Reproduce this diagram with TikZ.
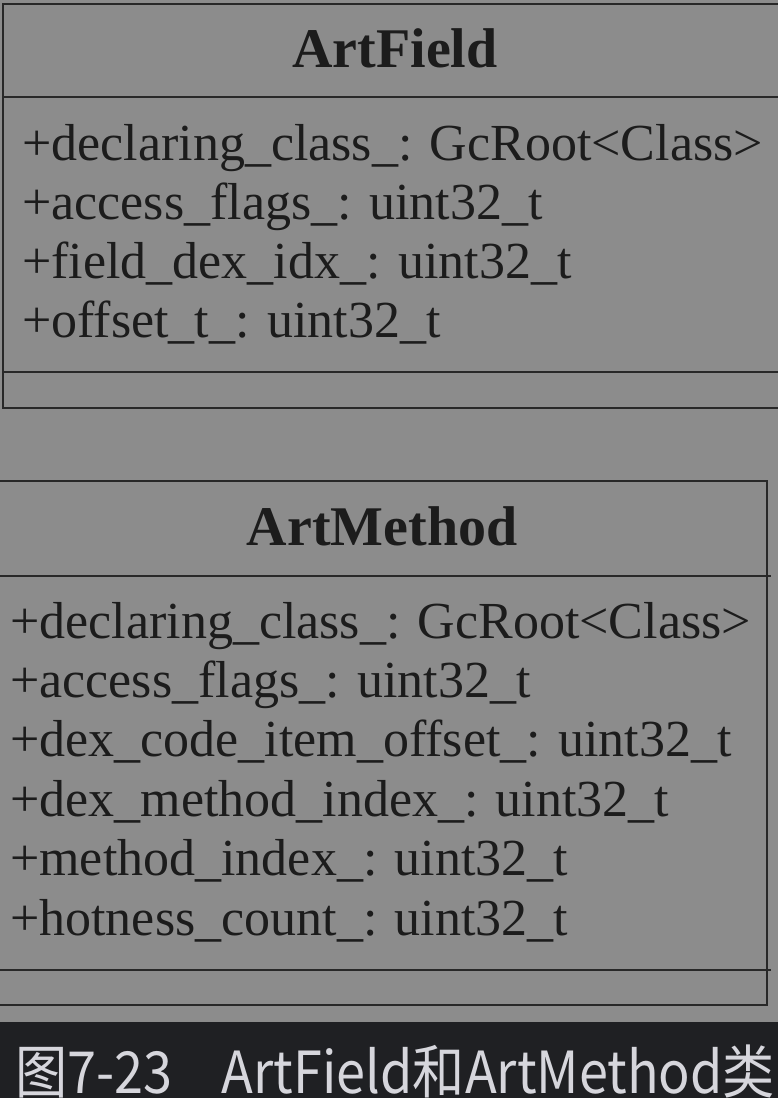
\documentclass[tikz,border=0pt]{standalone}
\usepackage{fontspec}
\setmainfont{Liberation Serif}
\newfontfamily\cjkfont{Noto Sans CJK SC}
\usetikzlibrary{positioning}

\begin{document}
\begin{tikzpicture}[x=1pt,y=-1pt,
    umlline/.style={draw=umlink, line width=2pt},
    classtitle/.style={font=\fontsize{56}{60}\selectfont\bfseries, text=umltext, inner sep=0pt, anchor=base},
    member/.style={font=\fontsize{52}{59}\selectfont, text=umltext, inner sep=0pt, anchor=base west}]
        \definecolor{umlbg}{RGB}{140,140,140}
        \definecolor{umlink}{RGB}{40,40,40}
        \definecolor{umltext}{RGB}{28,28,28}
        \definecolor{capbg}{RGB}{31,32,35}
        \definecolor{captext}{RGB}{214,214,220}

        \useasboundingbox (0,0) rectangle (778,1098);
        \fill[umlbg] (0,0) rectangle (778,1022);
        \fill[capbg] (0,1022) rectangle (778,1098);

        % ArtField class box
        \draw[umlline] (3,4) rectangle (790,408);
        \draw[umlline] (3,97) -- (790,97);
        \draw[umlline] (3,372) -- (790,372);
        \node[classtitle] (fieldtitle) at (395,67) {ArtField};
        \foreach \txt [count=\i] in {+declaring\_class\_: GcRoot<Class>,
                                     +access\_flags\_: uint32\_t,
                                     +field\_dex\_idx\_: uint32\_t,
                                     +offset\_t\_: uint32\_t}
            \node[member] (field\i) at (22,{160+59.3*(\i-1)}) {\txt};

        % ArtMethod class box
        \draw[umlline] (-5,481) rectangle (767,1005);
        \draw[umlline] (-5,576) -- (771,576);
        \draw[umlline] (-5,970) -- (771,970);
        \node[classtitle] (methodtitle) at (382,545) {ArtMethod};
        \foreach \txt [count=\i] in {+declaring\_class\_: GcRoot<Class>,
                                     +access\_flags\_: uint32\_t,
                                     +dex\_code\_item\_offset\_: uint32\_t,
                                     +dex\_method\_index\_: uint32\_t,
                                     +method\_index\_: uint32\_t,
                                     +hotness\_count\_: uint32\_t}
            \node[member] (method\i) at (10,{638+59.4*(\i-1)}) {\txt};

        % Caption
        \node[font=\cjkfont\fontsize{58}{60}\selectfont, text=captext, inner sep=0pt, anchor=base west] (caption) at (15,1093) {\scalebox{0.9}[1]{图7-23\hspace{55pt}ArtField和ArtMethod类}};
    \end{tikzpicture}
\end{document}
